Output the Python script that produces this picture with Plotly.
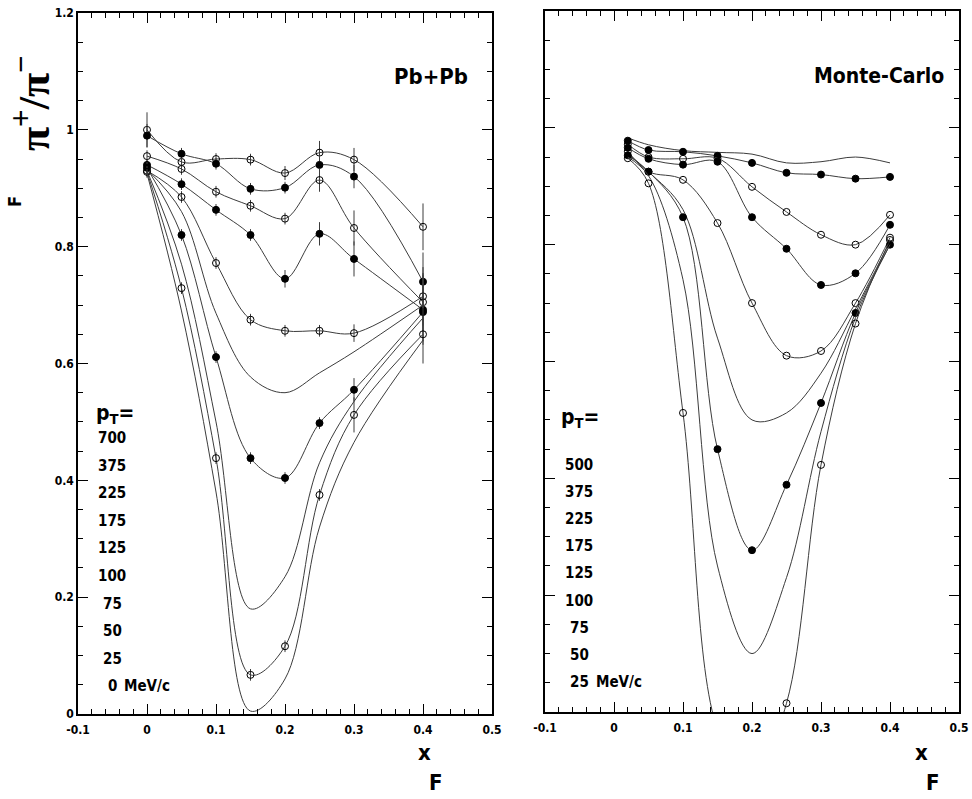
import plotly.graph_objects as go

W, H = 972, 799

# ---------------- data: Pb+Pb (left panel) ----------------
pb_xf = [0.0, 0.05, 0.10, 0.15, 0.20, 0.25, 0.30, 0.40]
pb_pt_labels = ["700", "375", "225", "175", "125", "100", "75", "50", "25", "0"]
pb_700 = [1.000, 0.945, 0.950, 0.949, 0.926, 0.961, 0.949, 0.834]
pb_375 = [0.990, 0.959, 0.942, 0.899, 0.901, 0.940, 0.920, 0.740]
pb_225 = [0.955, 0.933, 0.894, 0.870, 0.848, 0.914, 0.832, 0.705]
pb_175 = [0.940, 0.907, 0.863, 0.820, 0.745, 0.822, 0.779, 0.692]
pb_125 = [0.930, 0.885, 0.772, 0.675, 0.656, 0.656, 0.652, 0.715]
pb_100 = [0.932, 0.860, 0.686, 0.577, 0.550, 0.584, 0.620, 0.700]
pb_75 = [0.935, 0.820, 0.611, 0.438, 0.404, 0.498, 0.555, 0.688]
pb_50 = [0.930, 0.770, 0.500, 0.180, 0.235, 0.430, 0.535, 0.678]
pb_25 = [0.928, 0.729, 0.438, 0.067, 0.116, 0.375, 0.512, 0.650]
pb_0 = [0.925, 0.690, 0.380, 0.005, 0.060, 0.320, 0.465, 0.640]

pb_err_700 = [0.030, 0.010, 0.010, 0.010, 0.012, 0.020, 0.020, 0.040]
pb_err_375 = [0.020, 0.010, 0.010, 0.010, 0.010, 0.020, 0.020, 0.050]
pb_err_225 = [0.010, 0.010, 0.010, 0.010, 0.010, 0.020, 0.030, 0.050]
pb_err_175 = [0.010, 0.010, 0.010, 0.010, 0.015, 0.020, 0.030, 0.060]
pb_err_125 = [0.010, 0.010, 0.010, 0.010, 0.010, 0.010, 0.015, 0.050]
pb_err_75 = [0.010, 0.010, 0.010, 0.010, 0.010, 0.010, 0.020, 0.050]
pb_err_25 = [0.010, 0.010, 0.010, 0.010, 0.010, 0.010, 0.030, 0.050]

# ---------------- data: Monte-Carlo (right panel) ----------------
mc_xf = [0.02, 0.05, 0.10, 0.15, 0.20, 0.25, 0.30, 0.35, 0.40]
mc_pt_labels = ["500", "375", "225", "175", "125", "100", "75", "50", "25"]
mc_500 = [0.983, 0.971, 0.961, 0.958, 0.955, 0.940, 0.942, 0.950, 0.940]
mc_375 = [0.978, 0.962, 0.959, 0.952, 0.940, 0.923, 0.920, 0.913, 0.916]
mc_225 = [0.972, 0.950, 0.947, 0.948, 0.899, 0.856, 0.817, 0.800, 0.851]
mc_175 = [0.966, 0.947, 0.937, 0.942, 0.847, 0.793, 0.731, 0.751, 0.834]
mc_125 = [0.960, 0.925, 0.911, 0.837, 0.700, 0.610, 0.618, 0.700, 0.812]
mc_100 = [0.956, 0.925, 0.860, 0.640, 0.500, 0.512, 0.580, 0.690, 0.805]
mc_75 = [0.953, 0.925, 0.847, 0.450, 0.277, 0.389, 0.529, 0.683, 0.800]
mc_50 = [0.950, 0.918, 0.740, 0.250, 0.100, 0.230, 0.480, 0.675, 0.800]
mc_25 = [0.948, 0.905, 0.512, -0.030, -0.120, 0.015, 0.423, 0.665, 0.808]

# ---------------- axis ticks ----------------
x_tickvals = [-0.1, 0.0, 0.1, 0.2, 0.3, 0.4, 0.5]
x_ticktext = ["-0.1", "0", "0.1", "0.2", "0.3", "0.4", "0.5"]
y_tickvals = [0.0, 0.2, 0.4, 0.6, 0.8, 1.0, 1.2]
y_ticktext = ["0", "0.2", "0.4", "0.6", "0.8", "1", "1.2"]

# ---------------- styling ----------------
NARROW = "DejaVu Sans Condensed, Liberation Sans Narrow, sans-serif"
LINE = "#3c3c3c"

pb_curves = [
    (pb_700, "open", pb_err_700),
    (pb_375, "filled", pb_err_375),
    (pb_225, "open", pb_err_225),
    (pb_175, "filled", pb_err_175),
    (pb_125, "open", pb_err_125),
    (pb_100, None, None),
    (pb_75, "filled", pb_err_75),
    (pb_50, None, None),
    (pb_25, "open", pb_err_25),
    (pb_0, None, None),
]
mc_curves = [
    (mc_500, None, None),
    (mc_375, "filled", None),
    (mc_225, "open", None),
    (mc_175, "filled", None),
    (mc_125, "open", None),
    (mc_100, None, None),
    (mc_75, "filled", None),
    (mc_50, None, None),
    (mc_25, "open", None),
]

fig = go.Figure()


def add_curve(x, y, kind, err, xa, ya):
    tr = go.Scatter(
        x=x, y=y, xaxis=xa, yaxis=ya,
        mode="lines" if kind is None else "lines+markers",
        line=dict(shape="spline", smoothing=1.0, color=LINE, width=1),
        showlegend=False, cliponaxis=True, hoverinfo="x+y",
    )
    if kind is not None:
        tr.marker = dict(
            symbol="circle-open" if kind == "open" else "circle",
            size=7, color="black", line=dict(width=1, color="black"),
        )
        if err is not None:
            tr.error_y = dict(type="data", array=err, visible=True,
                              thickness=1, width=0, color=LINE)
    fig.add_trace(tr)


for y, kind, err in pb_curves:
    add_curve(pb_xf, y, kind, err, "x", "y")
for y, kind, err in mc_curves:
    add_curve(mc_xf, y, kind, err, "x2", "y2")

tickfont = dict(family=NARROW, size=12, color="black", weight="bold")
common = dict(showgrid=False, zeroline=False, showline=True, linecolor="black",
              linewidth=1.5, mirror="ticks", ticks="inside", tickcolor="black",
              tickwidth=1, tickfont=tickfont, automargin=False)

xcommon = dict(range=[-0.1, 0.5], tickvals=x_tickvals, ticktext=x_ticktext,
               ticklen=10, ticklabelstandoff=4,
               minor=dict(ticks="inside", dtick=0.02, ticklen=5, tickcolor="black"),
               **common)
ycommon = dict(range=[0, 1.2], tickvals=y_tickvals, ticktext=y_ticktext,
               ticklen=10,
               minor=dict(ticks="inside", dtick=0.05, ticklen=5, tickcolor="black"),
               **common)

fig.update_layout(
    width=W, height=H,
    margin=dict(l=0, r=0, t=0, b=0),
    paper_bgcolor="white", plot_bgcolor="white",
    xaxis=dict(domain=[78 / W, 492 / W], anchor="y", **xcommon),
    yaxis=dict(domain=[1 - 714 / H, 1 - 13 / H], anchor="x", **ycommon),
    xaxis2=dict(domain=[545 / W, 959 / W], anchor="y2", **xcommon),
    yaxis2=dict(domain=[1 - 712 / H, 1 - 11 / H], anchor="x2",
                showticklabels=False, **ycommon),
)


def ann(text, px, py, size, xanchor="center", yanchor="middle", angle=0,
        family=NARROW, weight="bold"):
    fig.add_annotation(
        text=text, x=px / W, y=1 - py / H, xref="paper", yref="paper",
        showarrow=False, xanchor=xanchor, yanchor=yanchor, textangle=angle,
        font=dict(family=family, size=size, color="black", weight=weight),
    )


# axis titles
ann("π<sup>+</sup>/π<sup>−</sup>", 31, 103, 44, angle=-90,
    family="Liberation Serif, DejaVu Serif, serif", weight="bold")
ann("F", 14, 202, 18, angle=-90)
ann("x", 424, 752, 22)
ann("F", 436, 782, 22)
ann("x", 921, 752, 22)
ann("F", 933, 782, 22)

# panel titles
ann("Pb+Pb", 470, 76, 22, xanchor="right")
ann("Monte-Carlo", 946, 76, 21, xanchor="right")

# p_T labels and lists
ann("p<sub>T</sub>=", 94, 414, 21, xanchor="left")
ann("p<sub>T</sub>=", 559, 418, 21, xanchor="left")
for i, lab in enumerate(pb_pt_labels):
    ann(lab, 112, 438 + i * 27.6, 15)
ann("MeV/c", 122, 686, 15, xanchor="left")
for i, lab in enumerate(mc_pt_labels):
    ann(lab, 579, 465 + i * 27.1, 15)
ann("MeV/c", 594, 682, 15, xanchor="left")

fig.write_html("out.html")
